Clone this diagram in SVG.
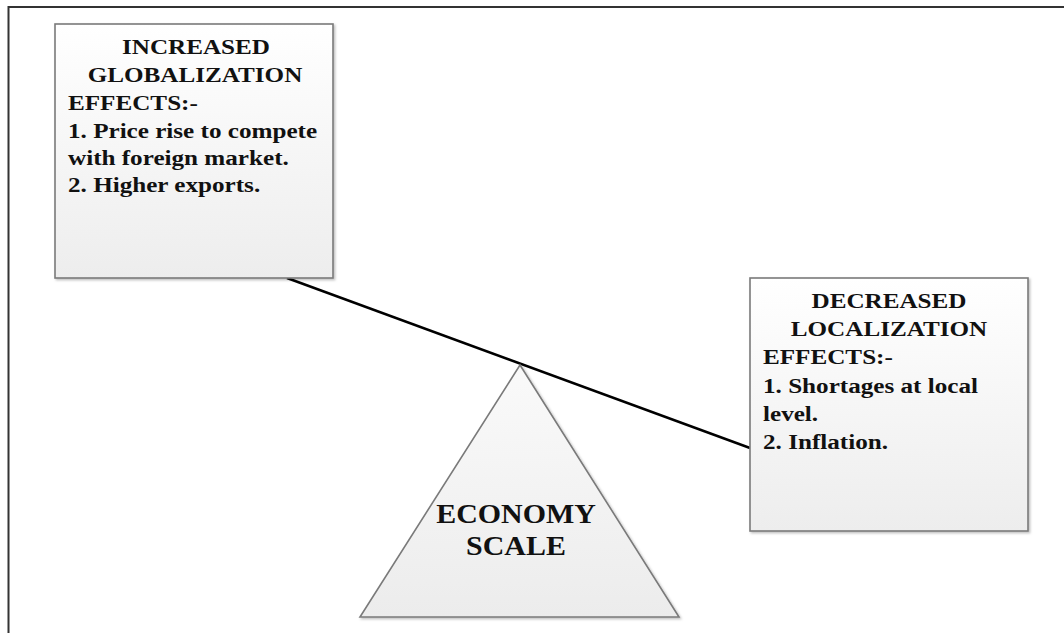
<svg xmlns="http://www.w3.org/2000/svg" width="1064" height="633" viewBox="0 0 1064 633">
<defs>
<linearGradient id="boxFill" x1="0" y1="0" x2="0" y2="1">
<stop offset="0" stop-color="#ffffff"/>
<stop offset="1" stop-color="#ededed"/>
</linearGradient>
<linearGradient id="triFill" x1="0" y1="0" x2="0" y2="1">
<stop offset="0" stop-color="#fafafa"/>
<stop offset="1" stop-color="#ececec"/>
</linearGradient>
<filter id="shadow" x="-5%" y="-5%" width="112%" height="112%">
<feDropShadow dx="1.5" dy="1.5" stdDeviation="1.2" flood-color="#000" flood-opacity="0.25"/>
</filter>
</defs>
<style>
.box{fill:url(#boxFill);stroke:#7a7a7a;stroke-width:1.6;filter:url(#shadow)}
.tri{fill:url(#triFill);stroke:#7a7a7a;stroke-width:1.6;filter:url(#shadow)}
.t{font-family:"Liberation Serif","Times New Roman",serif;font-weight:bold;font-size:21.5px;fill:#111}
.c{text-anchor:middle}
.big{font-family:"Liberation Serif","Times New Roman",serif;font-weight:bold;font-size:28px;fill:#111;text-anchor:middle}
.frame{stroke:#333;stroke-width:2;fill:none}
.beam{stroke:#000;stroke-width:2.5;fill:none}
</style>
<rect width="1064" height="633" fill="#ffffff"/>
<path class="frame" d="M8.5,633 V7 H1064"/>
<g id="connectors">
<line class="beam" x1="287" y1="278" x2="750" y2="448"/>
</g>
<g id="economy-scale">
<polygon class="tri" points="520,365 679,617 360,617"/>
<text class="big" transform="translate(516,523) scale(1.07,1)">ECONOMY</text>
<text class="big" transform="translate(516,555) scale(1.07,1)">SCALE</text>
</g>
<g id="increased-globalization">
<rect class="box" x="55" y="24" width="278" height="254"/>
<text class="t c" transform="translate(196,54) scale(1.17,1)">INCREASED</text>
<text class="t c" transform="translate(195,82) scale(1.17,1)">GLOBALIZATION</text>
<text class="t" transform="translate(68,110) scale(1.17,1)">EFFECTS:-</text>
<text class="t" transform="translate(68,138) scale(1.17,1)">1. Price rise to compete</text>
<text class="t" transform="translate(68,165) scale(1.17,1)">with foreign market.</text>
<text class="t" transform="translate(68,192) scale(1.17,1)">2. Higher exports.</text>
</g>
<g id="decreased-localization">
<rect class="box" x="750" y="278" width="278" height="253"/>
<text class="t c" transform="translate(889,308) scale(1.17,1)">DECREASED</text>
<text class="t c" transform="translate(889,336) scale(1.17,1)">LOCALIZATION</text>
<text class="t" transform="translate(763,364) scale(1.17,1)">EFFECTS:-</text>
<text class="t" transform="translate(763,393) scale(1.17,1)">1. Shortages at local</text>
<text class="t" transform="translate(763,421) scale(1.17,1)">level.</text>
<text class="t" transform="translate(763,449) scale(1.17,1)">2. Inflation.</text>
</g>
</svg>
